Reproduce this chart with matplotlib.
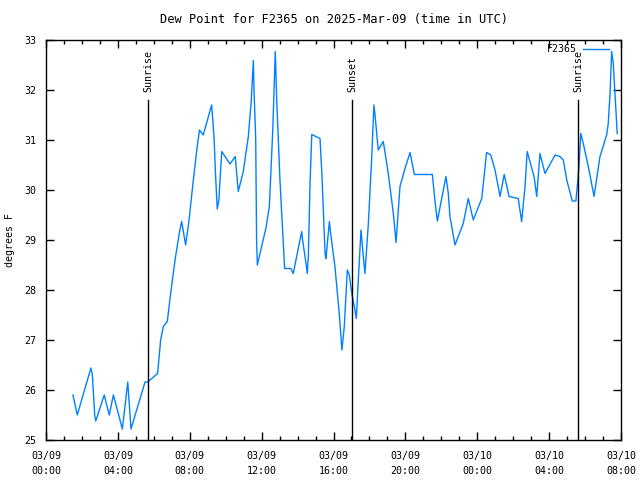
'''
Dew point plot for station F2365, gnuplot-like look.
'''

# -----------------------------------------------------------------------------
# Modules

from matplotlib import pyplot as plt

# -----------------------------------------------------------------------------
# Data (hours since 2025-03-09 00:00 UTC, dew point in F)

hours = [1.50, 1.74, 2.50, 2.58, 2.71, 2.77, 3.24, 3.52, 3.75, 4.25, 4.55,
         4.73, 5.51, 5.66, 6.21, 6.38, 6.53, 6.75, 6.94, 7.18, 7.42, 7.55,
         7.77, 7.96, 8.20, 8.39, 8.54, 8.75, 9.22, 9.35, 9.44, 9.53, 9.62,
         9.78, 10.24, 10.53, 10.70, 10.98, 11.26, 11.42, 11.54, 11.57, 11.67,
         11.72, 11.76, 12.00, 12.24, 12.43, 12.62, 12.73, 12.76, 12.84,
         13.02, 13.17, 13.28, 13.62, 13.76, 14.23, 14.28, 14.47, 14.54,
         14.60, 14.69, 14.79, 15.25, 15.36, 15.53, 15.58, 15.77, 15.84,
         16.08, 16.32, 16.47, 16.60, 16.77, 16.88, 17.03, 17.16, 17.27,
         17.38, 17.53, 17.66, 17.75, 17.94, 18.13, 18.25, 18.31, 18.49,
         18.77, 19.05, 19.33, 19.48, 19.70, 19.98, 20.26, 20.50, 21.50,
         21.65, 21.78, 22.26, 22.39, 22.48, 22.76, 23.22, 23.50, 23.78,
         24.25, 24.52, 24.75, 24.99, 25.27, 25.50, 25.77, 26.28, 26.47,
         26.66, 26.78, 27.16, 27.31, 27.49, 27.77, 28.33, 28.60, 28.79,
         28.98, 29.29, 29.49, 29.59, 29.66, 29.76, 29.90, 30.18, 30.50,
         30.83, 31.20, 31.29, 31.39, 31.48, 31.57, 31.72, 31.79]

dew_point = [25.90, 25.50, 26.44, 26.30, 25.50, 25.38, 25.90, 25.50, 25.90,
             25.22, 26.16, 25.22, 26.16, 26.16, 26.33, 27.00, 27.27, 27.37,
             27.94, 28.60, 29.14, 29.37, 28.90, 29.40, 30.20, 30.80, 31.20,
             31.10, 31.70, 31.07, 30.27, 29.62, 29.80, 30.77, 30.52, 30.67,
             29.97, 30.37, 31.07, 31.77, 32.59, 32.07, 31.03, 29.00, 28.50,
             28.87, 29.24, 29.67, 31.20, 32.47, 32.77, 31.80, 30.20, 29.17,
             28.43, 28.43, 28.33, 29.17, 29.00, 28.53, 28.33, 28.67, 30.07,
             31.11, 31.03, 30.27, 28.73, 28.63, 29.37, 29.13, 28.47, 27.53,
             26.80, 27.27, 28.40, 28.30, 27.90, 27.67, 27.43, 28.20, 29.20,
             28.67, 28.33, 29.33, 30.67, 31.70, 31.50, 30.80, 30.97, 30.33,
             29.53, 28.95, 30.07, 30.43, 30.75, 30.31, 30.31, 29.77, 29.38,
             30.27, 29.93, 29.47, 28.90, 29.33, 29.83, 29.40, 29.83, 30.75,
             30.70, 30.40, 29.87, 30.31, 29.87, 29.83, 29.37, 30.07, 30.77,
             30.27, 29.87, 30.73, 30.33, 30.70, 30.67, 30.60, 30.20, 29.78,
             29.78, 30.17, 30.47, 31.13, 30.93, 30.47, 29.87, 30.67, 31.10,
             31.33, 31.93, 32.77, 32.53, 31.60, 31.13]

sun_hours = [5.69, 17.05, 29.62]
sun_labels = ['Sunrise', 'Sunset', 'Sunrise']

x_ticks = [0, 4, 8, 12, 16, 20, 24, 28, 32]
x_tick_labels = ['03/09\n00:00', '03/09\n04:00', '03/09\n08:00',
                 '03/09\n12:00', '03/09\n16:00', '03/09\n20:00',
                 '03/10\n00:00', '03/10\n04:00', '03/10\n08:00']
y_ticks = [25, 26, 27, 28, 29, 30, 31, 32, 33]

# -----------------------------------------------------------------------------
# Plotting

plt.rcParams['font.family'] = ['DejaVu Sans Mono']
plt.rcParams['font.size'] = 7.2

figure = plt.figure(figsize=(6.4, 4.8), dpi=100)
ax = figure.add_axes([46 / 640, 40 / 480, 575 / 640, 400 / 480])

ax.plot(hours, dew_point, color='#0080ff', linewidth=1, label='F2365')

for sun_hour, sun_label in zip(sun_hours, sun_labels):
    ax.plot([sun_hour, sun_hour], [25, 31.8], color='black', linewidth=1)
    ax.text(sun_hour, 31.96, sun_label, rotation=90, ha='center',
            va='bottom')

ax.set_xlim(0, 32)
ax.set_ylim(25, 33)
ax.set_xticks(x_ticks)
ax.set_xticklabels(x_tick_labels, linespacing=1.65)
ax.set_xticks(range(0, 33), minor=True)
ax.set_yticks(y_ticks)
ax.tick_params(which='major', direction='in', length=6, width=1,
               top=True, right=True)
ax.tick_params(which='minor', direction='in', length=3, width=1,
               top=True, right=True)
ax.tick_params(axis='x', pad=8)
ax.tick_params(axis='y', pad=7)
for spine in ax.spines.values():
    spine.set_linewidth(1)

ax.set_title('Dew Point for F2365 on 2025-Mar-09 (time in UTC)', pad=12)
ax.set_ylabel('degrees F')
ax.yaxis.set_label_coords(-31 / 575, 0.5)

ax.legend(loc='upper right', bbox_to_anchor=(0.9826, 0.994), frameon=False,
          markerfirst=False, handlelength=2.6, handletextpad=0.6,
          borderaxespad=0, borderpad=0.2)

figure.savefig('out.png', dpi=100)
